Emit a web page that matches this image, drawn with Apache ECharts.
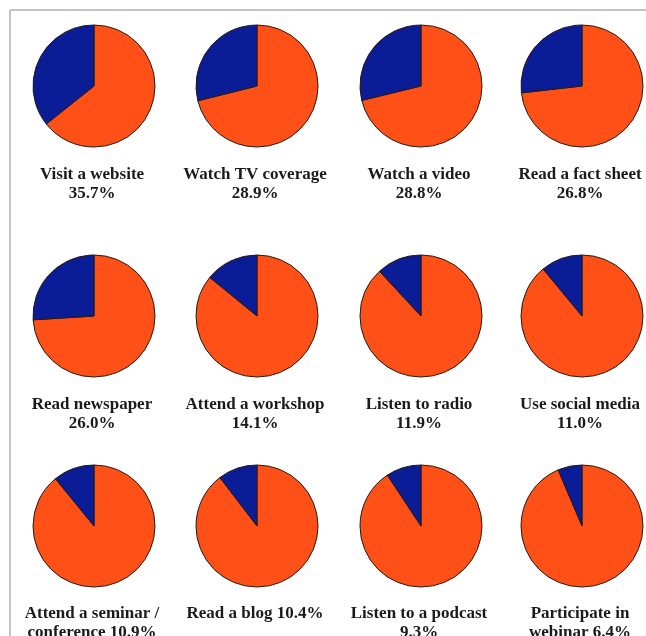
<!DOCTYPE html>
<html>
<head>
<meta charset="utf-8">
<script src="https://cdn.jsdelivr.net/npm/echarts@6/dist/echarts.min.js"></script>
<style>html,body{margin:0;padding:0;background:#fff;}#chart{width:646px;height:636px;}</style>
</head>
<body>
<div id="chart"></div>
<script>
var categories = ['Visit a website', 'Watch TV coverage', 'Watch a video', 'Read a fact sheet',
  'Read newspaper', 'Attend a workshop', 'Listen to radio', 'Use social media',
  'Attend a seminar / conference', 'Read a blog', 'Listen to a podcast', 'Participate in webinar'];
var values = [35.7, 28.9, 28.8, 26.8, 26.0, 14.1, 11.9, 11.0, 10.9, 10.4, 9.3, 6.4];
var labelTexts = ['Visit a website\n35.7%', 'Watch TV coverage\n28.9%', 'Watch a video\n28.8%', 'Read a fact sheet\n26.8%',
  'Read newspaper\n26.0%', 'Attend a workshop\n14.1%', 'Listen to radio\n11.9%', 'Use social media\n11.0%',
  'Attend a seminar /\nconference 10.9%', 'Read a blog 10.4%', 'Listen to a podcast\n9.3%', 'Participate in\nwebinar 6.4%'];

var colX = [94, 257, 421, 582];
var rowY = [86, 316, 526];
var labelY = [160, 390, 599];
var R = 61;

var series = [];
var titles = [];
categories.forEach(function (c, i) {
  var col = i % 4, row = Math.floor(i / 4);
  series.push({
    type: 'pie',
    name: c,
    center: [colX[col], rowY[row]],
    radius: [0, R],
    startAngle: 90,
    clockwise: true,
    silent: true,
    animation: false,
    label: { show: false },
    labelLine: { show: false },
    itemStyle: { borderColor: '#2a1a10', borderWidth: 1 },
    data: [
      { name: 'Other', value: +(100 - values[i]).toFixed(1), itemStyle: { color: '#FF5018' } },
      { name: c, value: values[i], itemStyle: { color: '#0A1C96' } }
    ]
  });
  titles.push({
    text: labelTexts[i],
    left: colX[col] - 7,
    top: labelY[row],
    textAlign: 'center',
    textStyle: { fontFamily: 'Liberation Serif', fontWeight: 'bold', fontSize: 17, color: '#1a1a1a', lineHeight: 19 }
  });
});

var chart = echarts.init(document.getElementById('chart'), null, { renderer: 'canvas' });
chart.setOption({
  backgroundColor: '#fff',
  animation: false,
  title: titles,
  graphic: [
    { type: 'line', shape: { x1: 10, y1: 10, x2: 646, y2: 10 }, style: { stroke: '#b0b0b0', lineWidth: 1.5 } },
    { type: 'line', shape: { x1: 10, y1: 10, x2: 10, y2: 636 }, style: { stroke: '#b0b0b0', lineWidth: 1.5 } }
  ],
  series: series
});
</script>
</body>
</html>
